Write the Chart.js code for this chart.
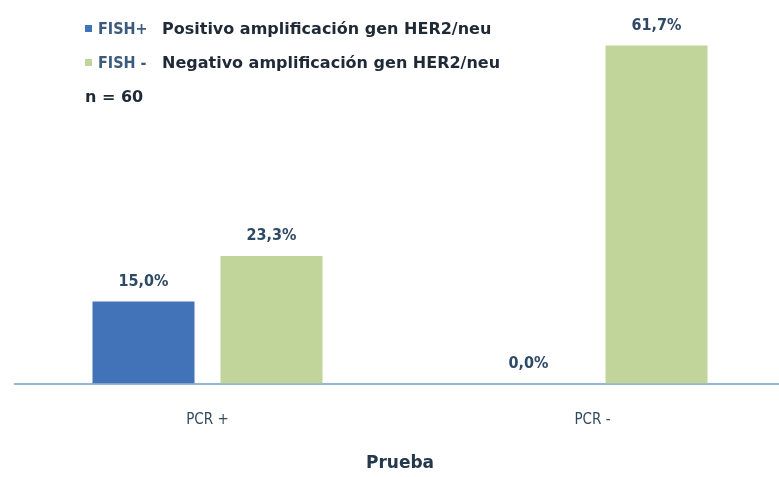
<!DOCTYPE html>
<html>
<head>
<meta charset="utf-8">
<script src="https://cdn.jsdelivr.net/npm/chart.js@4/dist/chart.umd.min.js"></script>
<style>
  html, body { margin: 0; padding: 0; background: #fff; overflow: hidden; }
  #wrap { position: relative; width: 792px; height: 477px; }
  #legend { position: absolute; left: 85px; top: 11px; }
  .row { height: 34px; display: flex; align-items: center; white-space: nowrap; }
  .sw { display: inline-block; width: 7px; height: 7px; margin-right: 6px; }
  .tag { font-family: "DejaVu Sans Condensed", sans-serif; font-weight: bold; font-size: 16px; color: #3c5a7e; width: 64px; }
  .desc { font-family: "DejaVu Sans", sans-serif; font-size: 16px; font-weight: bold; color: #1f2a36; }
</style>
</head>
<body>
<div id="wrap">
  <canvas id="chart" width="792" height="477"></canvas>
  <div id="legend"></div>
</div>
<script>
// ================================
// Data
// ================================
const categories = ["PCR +", "PCR -"];
const seriesTags = ["FISH+", "FISH -"];
const seriesNames = ["Positivo amplificación gen HER2/neu", "Negativo amplificación gen HER2/neu"];
const fishPos = [15.0, 0.0];
const fishNeg = [23.3, 61.7];
const sampleNote = "n = 60";
const colors = ["#4272b8", "#c1d59a"];

// ================================
// Legend (html)
// ================================
const legend = document.getElementById("legend");
seriesTags.forEach((tag, i) => {
    const row = document.createElement("div");
    row.className = "row";
    row.innerHTML = `
        <span class="sw" style="background:${colors[i]}"></span>
        <span class="tag">${tag}</span>
        <span class="desc">${seriesNames[i]}</span>
    `;
    legend.appendChild(row);
});
const note = document.createElement("div");
note.className = "row";
note.innerHTML = `<span class="desc">${sampleNote}</span>`;
legend.appendChild(note);

// ================================
// Value labels above bars
// ================================
const valueLabels = {
    id: "valueLabels",
    afterDatasetsDraw(chart) {
        const ctx = chart.ctx;
        ctx.save();
        ctx.font = "bold 16px 'DejaVu Sans Condensed', sans-serif";
        ctx.fillStyle = "#2e4a66";
        ctx.textAlign = "center";
        ctx.textBaseline = "middle";
        chart.data.datasets.forEach((ds, i) => {
            chart.getDatasetMeta(i).data.forEach((bar, j) => {
                const txt = ds.data[j].toFixed(1).replace(".", ",") + "%";
                ctx.fillText(txt, bar.x, bar.y - 20);
            });
        });
        ctx.restore();
    }
};

// ================================
// Chart
// ================================
new Chart(document.getElementById("chart"), {
    type: "bar",
    data: {
        labels: categories,
        datasets: [
            { label: seriesTags[0], data: fishPos, backgroundColor: colors[0] },
            { label: seriesTags[1], data: fishNeg, backgroundColor: colors[1] }
        ]
    },
    options: {
        responsive: false,
        animation: false,
        categoryPercentage: 0.665,
        barPercentage: 0.797,
        layout: { padding: { left: 15, right: 7, top: 0, bottom: 3 } },
        plugins: {
            legend: { display: false },
            tooltip: { enabled: false }
        },
        scales: {
            y: { display: false, min: 0, max: 70 },
            x: {
                grid: { display: false, drawTicks: false },
                border: { display: true, color: "#94b6d2", width: 2 },
                ticks: {
                    padding: 28,
                    color: "#34485e",
                    font: { family: "'DejaVu Sans Condensed', sans-serif", size: 15 }
                },
                title: {
                    display: true,
                    text: "Prueba",
                    color: "#24384c",
                    padding: { top: -4, bottom: 0 },
                    font: { family: "'DejaVu Sans', sans-serif", size: 17, weight: "bold" }
                }
            }
        }
    },
    plugins: [valueLabels]
});
</script>
</body>
</html>
